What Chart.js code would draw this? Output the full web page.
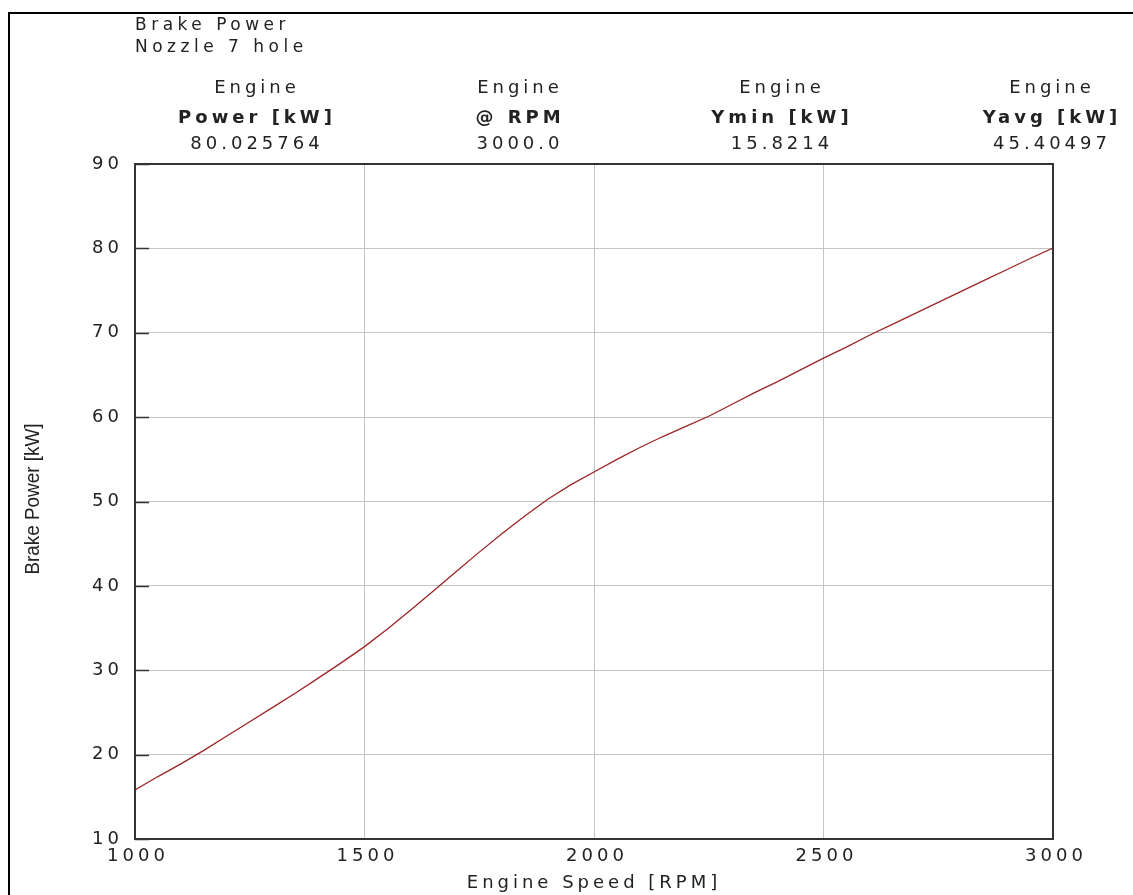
<!DOCTYPE html>
<html>
<head>
<meta charset="utf-8">
<title>Brake Power</title>
<script src="https://cdn.jsdelivr.net/npm/chart.js@4.4.1/dist/chart.umd.min.js"></script>
<style>
  html, body { margin: 0; padding: 0; background: #fff; }
  #wrap { width: 1133px; height: 895px; }
</style>
</head>
<body>
<div id="wrap"><canvas id="powerChart" width="1133" height="895"></canvas></div>
<script>
// values
const engineSpeed = [1000, 1050, 1100, 1150, 1200, 1250, 1300, 1350, 1400, 1450,
    1500, 1550, 1600, 1650, 1700, 1750, 1800, 1850, 1900, 1950,
    2000, 2050, 2100, 2150, 2200, 2250, 2300, 2350, 2400, 2450,
    2500, 2550, 2600, 2650, 2700, 2750, 2800, 2850, 2900, 2950, 3000];
const brakePower = [15.82, 17.4, 18.9, 20.5, 22.2, 23.9, 25.6, 27.3, 29.1, 30.9,
    32.8, 34.9, 37.1, 39.4, 41.7, 44.0, 46.2, 48.3, 50.3, 52.0,
    53.5, 55.0, 56.4, 57.7, 58.9, 60.1, 61.5, 62.9, 64.2, 65.6,
    67.0, 68.3, 69.7, 71.0, 72.3, 73.6, 74.9, 76.2, 77.5, 78.8, 80.03];

const titleLines = ['Brake Power', 'Nozzle 7 hole'];
const headerTop = ['Engine', 'Engine', 'Engine', 'Engine'];
const headerNames = ['Power [kW]', '@ RPM', 'Ymin [kW]', 'Yavg [kW]'];
const headerValues = ['80.025764', '3000.0', '15.8214', '45.40497'];
const headerCenters = [255, 518, 780, 1050];

const FONT = '"DejaVu Sans", Verdana, sans-serif';
const SPACING = 4;
const TEXT = '#222';

function tx(ctx, s, x, y, align) {
    // letterSpacing adds a trailing gap, nudge centred text back
    const off = align === 'center' ? SPACING / 2 : 0;
    ctx.textAlign = align;
    ctx.fillText(s, x + off, y);
}

const decor = {
    id: 'decor',
    beforeUpdate(chart) {
        chart.ctx.letterSpacing = SPACING + 'px';
    },
    beforeDraw(chart) {
        const ctx = chart.ctx;
        ctx.letterSpacing = SPACING + 'px';
        ctx.save();
        ctx.fillStyle = '#fff';
        ctx.fillRect(0, 0, chart.width, chart.height);
        ctx.restore();
    },
    afterDraw(chart) {
        const ctx = chart.ctx;
        const a = chart.chartArea;
        ctx.save();

        // outer frame (runs off the right and bottom)
        ctx.strokeStyle = '#000';
        ctx.lineWidth = 2;
        ctx.beginPath();
        ctx.moveTo(9, chart.height);
        ctx.lineTo(9, 13);
        ctx.lineTo(chart.width, 13);
        ctx.stroke();

        // plot box
        ctx.strokeStyle = '#333';
        ctx.lineWidth = 2;
        ctx.strokeRect(a.left, a.top, a.right - a.left, a.bottom - a.top);

        // short inner ticks on the y axis
        const ys = chart.scales.y;
        ctx.lineWidth = 1.5;
        ys.ticks.forEach(t => {
            const py = Math.round(ys.getPixelForValue(t.value)) + 0.5;
            ctx.beginPath();
            ctx.moveTo(a.left, py);
            ctx.lineTo(a.left + 14, py);
            ctx.stroke();
        });

        // header text
        ctx.fillStyle = TEXT;
        ctx.textBaseline = 'alphabetic';
        ctx.letterSpacing = '4.5px';
        ctx.font = '17px ' + FONT;
        ctx.textAlign = 'left';
        ctx.fillText(titleLines[0], 135, 30);
        ctx.fillText(titleLines[1], 135, 52);

        ctx.letterSpacing = SPACING + 'px';
        headerCenters.forEach((cx, i) => {
            ctx.font = '18px ' + FONT;
            tx(ctx, headerTop[i], cx, 93, 'center');
            ctx.font = 'bold 18px ' + FONT;
            tx(ctx, headerNames[i], cx, 123, 'center');
            ctx.font = '18px ' + FONT;
            tx(ctx, headerValues[i], cx, 149, 'center');
        });

        // y axis title, condensed
        ctx.translate(33, 499);
        ctx.rotate(-Math.PI / 2);
        ctx.scale(0.9, 1);
        ctx.letterSpacing = '0px';
        ctx.font = '21px "Liberation Sans", Arial, sans-serif';
        ctx.textAlign = 'center';
        ctx.textBaseline = 'middle';
        ctx.fillText('Brake Power [kW]', 0, 0);
        ctx.restore();
    }
};

const tickFont = { family: FONT, size: 18 };

new Chart(document.getElementById('powerChart').getContext('2d'), {
    type: 'line',
    data: {
        datasets: [{
            label: 'Brake Power',
            data: engineSpeed.map((rpm, i) => ({ x: rpm, y: brakePower[i] })),
            borderColor: '#9c2424',
            borderWidth: 1.3,
            pointRadius: 0,
            tension: 0,
            fill: false
        }]
    },
    options: {
        responsive: false,
        animation: false,
        devicePixelRatio: 1,
        layout: {
            padding: { left: 17, top: 164, right: 80, bottom: 1 }
        },
        plugins: {
            legend: { display: false },
            tooltip: { enabled: false }
        },
        scales: {
            x: {
                type: 'linear',
                min: 1000,
                max: 3000,
                ticks: {
                    stepSize: 500, color: TEXT, font: tickFont, padding: 7, labelOffset: 3, maxRotation: 0,
                    callback: v => String(v)
                },
                grid: { color: '#c4c4c4', lineWidth: 1, drawTicks: false },
                border: { display: false },
                title: {
                    display: true,
                    text: 'Engine Speed [RPM]',
                    color: TEXT,
                    font: tickFont,
                    padding: { top: 0, bottom: 0 }
                },
                afterFit(s) {
                    s.height = 55;
                    s.paddingLeft = 0;
                    s.paddingRight = 0;
                }
            },
            y: {
                min: 10,
                max: 90,
                ticks: { stepSize: 10, color: TEXT, font: tickFont, padding: 12 },
                grid: { color: '#c4c4c4', lineWidth: 1, drawTicks: false },
                border: { display: false },
                afterFit(s) {
                    s.width = 118;
                    s.paddingTop = 0;
                    s.paddingBottom = 0;
                }
            }
        }
    },
    plugins: [decor]
});
</script>
</body>
</html>
